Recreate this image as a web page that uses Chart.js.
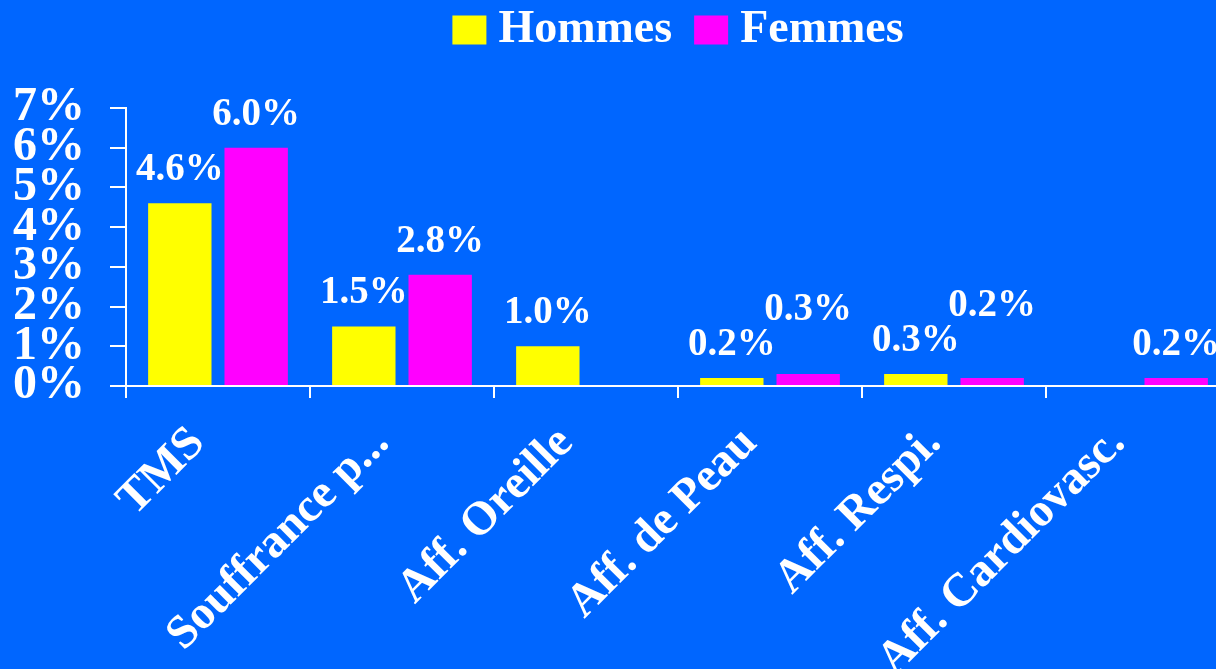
<!DOCTYPE html>
<html>
<head>
<meta charset="utf-8">
<script src="https://cdn.jsdelivr.net/npm/chart.js@4"></script>
<style>
  html, body { margin: 0; padding: 0; background: #0066ff; overflow: hidden; }
  #wrap { width: 1216px; height: 669px; overflow: hidden; }
</style>
</head>
<body>
<div id="wrap"><canvas id="chart" width="1230" height="669"></canvas></div>
<script>
// Données du graphique
const categories = ['TMS', 'Souffrance p...', 'Aff. Oreille', 'Aff. de Peau', 'Aff. Respi.', 'Aff. Cardiovasc.'];
const hommes = [4.6, 1.5, 1.0, 0.2, 0.3, null];
const femmes = [6.0, 2.8, null, 0.3, 0.2, 0.2];
const yTicks = [0, 1, 2, 3, 4, 5, 6, 7];

const FONT = '"Liberation Serif", "Times New Roman", serif';
const BOX_W = 34;
const BOX_H = 29;

// Étiquettes de valeur au-dessus des barres (décalées si elles se chevauchent)
const valueLabels = {
    id: 'valueLabels',
    afterDatasetsDraw(chart) {
        const ctx = chart.ctx;
        ctx.save();
        ctx.font = 'bold 39px ' + FONT;
        ctx.fillStyle = '#ffffff';
        ctx.textAlign = 'center';
        ctx.textBaseline = 'alphabetic';
        const placed = [];
        chart.data.labels.forEach((_, i) => {
            chart.data.datasets.forEach((ds, d) => {
                const v = ds.data[i];
                if (v === null || v === undefined) return;
                const bar = chart.getDatasetMeta(d).data[i];
                const text = v.toFixed(1) + '%';
                const w = ctx.measureText(text).width;
                let base = bar.y - 23;
                placed.forEach(p => {
                    if (p.i === i && Math.abs(p.x - bar.x) < (w + p.w) / 2 && base > p.base - 35) {
                        base = p.base - 35;
                    }
                });
                ctx.fillText(text, bar.x, base);
                placed.push({ i: i, x: bar.x, w: w, base: base });
            });
        });
        ctx.restore();
    }
};

// Légende : carrés plus larges que l'espace prévu, et marge sous la légende
const legendTweaks = {
    id: 'legendTweaks',
    beforeLayout(chart) {
        const legend = chart.legend;
        if (!legend || legend._patched) return;
        const fit = legend.fit;
        legend.fit = function() {
            fit.call(this);
            this.height += 45;
        };
        legend._patched = true;
    },
    afterDraw(chart) {
        const legend = chart.legend;
        if (!legend || !legend.legendHitBoxes) return;
        const ctx = chart.ctx;
        ctx.save();
        legend.legendHitBoxes.forEach((hb, i) => {
            ctx.fillStyle = chart.data.datasets[i].backgroundColor;
            ctx.fillRect(hb.left, hb.top + (hb.height - BOX_H) / 2, BOX_W, BOX_H);
        });
        ctx.restore();
    }
};

const ctx = document.getElementById('chart').getContext('2d');
new Chart(ctx, {
    type: 'bar',
    data: {
        labels: categories,
        datasets: [
            { label: 'Hommes', data: hommes, backgroundColor: '#ffff00' },
            { label: 'Femmes', data: femmes, backgroundColor: '#ff00ff' }
        ]
    },
    options: {
        responsive: false,
        animation: false,
        layout: { padding: { top: -15, right: 0, left: 0, bottom: 0 } },
        datasets: { bar: { categoryPercentage: 0.83, barPercentage: 0.83 } },
        plugins: {
            legend: {
                position: 'top',
                fullSize: false,
                labels: {
                    color: '#ffffff',
                    font: { family: FONT, size: 46, weight: 'bold' },
                    boxWidth: BOX_W - 11,
                    boxHeight: BOX_H,
                    padding: 22,
                    generateLabels(chart) {
                        return chart.data.datasets.map((ds, i) => ({
                            text: ds.label,
                            fillStyle: 'rgba(0,0,0,0)',
                            strokeStyle: 'rgba(0,0,0,0)',
                            lineWidth: 0,
                            fontColor: '#ffffff',
                            hidden: false,
                            datasetIndex: i
                        }));
                    }
                }
            },
            tooltip: { enabled: false }
        },
        scales: {
            x: {
                offset: true,
                grid: { offset: true, drawOnChartArea: false, drawTicks: true, tickLength: 12, color: '#ffffff', lineWidth: 2 },
                border: { color: '#ffffff', width: 2 },
                ticks: {
                    color: '#ffffff',
                    font: { family: FONT, size: 47, weight: 'bold' },
                    maxRotation: 45,
                    minRotation: 45,
                    autoSkip: false,
                    labelOffset: -20,
                    padding: 18
                },
                afterFit(scale) { scale.height = 283; }
            },
            y: {
                min: 0,
                max: 7,
                afterBuildTicks(scale) { scale.ticks = yTicks.map(v => ({ value: v })); },
                grid: { drawOnChartArea: false, drawTicks: true, tickLength: 16, color: '#ffffff', lineWidth: 2 },
                border: { color: '#ffffff', width: 2 },
                ticks: {
                    color: '#ffffff',
                    font: { family: FONT, size: 48, weight: 'bold' },
                    padding: 25,
                    autoSkip: false,
                    callback: v => v + '%'
                },
                afterFit(scale) { scale.width = 126; }
            }
        }
    },
    plugins: [valueLabels, legendTweaks]
});
</script>
</body>
</html>
